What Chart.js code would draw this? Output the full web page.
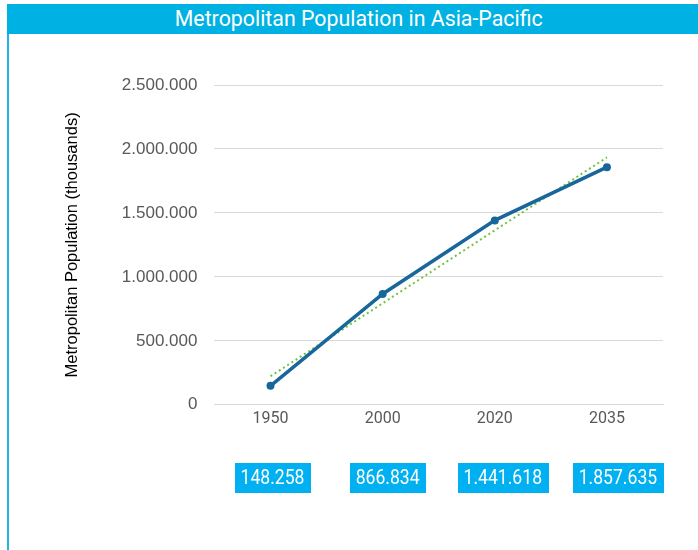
<!DOCTYPE html>
<html>
<head>
<meta charset="utf-8">
<script src="https://cdn.jsdelivr.net/npm/chart.js@4.4.1/dist/chart.umd.min.js"></script>
<style>
  body { margin: 0; background: #fff; }
  #wrap { position: relative; width: 698px; height: 550px; overflow: hidden; }
  #title {
    position: absolute; left: 7px; top: 4px; width: 679px; height: 30px; padding-left: 12px;
    background: #00b2e3; color: #fff; text-align: center;
    font: 22px Roboto, sans-serif; line-height: 30px;
  }
  #title span { display: inline-block; transform: scaleX(0.97); }
  #edge { position: absolute; left: 7px; top: 34px; width: 2px; height: 516px; background: #1fb6e6; }
  canvas { position: absolute; left: 0; top: 0; }
</style>
</head>
<body>
<div id="wrap">
  <div id="title"><span>Metropolitan Population in Asia-Pacific</span></div>
  <div id="edge"></div>
  <canvas id="chart" width="698" height="550"></canvas>
</div>
<script>
const years = ["1950", "2000", "2020", "2035"];
const population = [148258, 866834, 1441618, 1857635];
// linear trendline (excel style)
const trendValues = [223148, 793440, 1363732, 1934024];
const yTicks = [0, 500000, 1000000, 1500000, 2000000, 2500000];

const fmt = (v) => v.toLocaleString("de-DE");

// draws the blue value boxes under the x axis
const valueBoxes = {
  id: "valueBoxes",
  afterDraw(chart) {
    const ctx = chart.ctx;
    const xs = chart.scales.x;
    const squeeze = 0.88; // the labels use a narrow face
    ctx.save();
    ctx.font = "20px Roboto, sans-serif";
    ctx.textAlign = "center";
    ctx.textBaseline = "middle";
    population.forEach((v, i) => {
      const cx = xs.getPixelForValue(i) + i * 3 + 2;
      const text = fmt(v);
      const w = ctx.measureText(text).width * squeeze + 12;
      ctx.fillStyle = "#00b0f0";
      ctx.fillRect(Math.round(cx - w / 2), 463, Math.round(w), 30);
      ctx.save();
      ctx.translate(cx, 479);
      ctx.scale(squeeze, 1);
      ctx.fillStyle = "#fff";
      ctx.fillText(text, 0, 0);
      ctx.restore();
    });
    ctx.restore();
  },
};

new Chart(document.getElementById("chart"), {
  type: "line",
  data: {
    labels: years,
    datasets: [
      {
        data: population,
        borderColor: "#17679b",
        backgroundColor: "#17679b",
        borderWidth: 3.5,
        pointRadius: 4,
        pointBorderWidth: 0,
        tension: 0,
        order: 1,
      },
      {
        data: trendValues,
        borderColor: "#72c23f",
        borderWidth: 2,
        borderDash: [2, 3],
        pointRadius: 0,
        tension: 0,
        order: 2,
      },
    ],
  },
  options: {
    responsive: false,
    animation: false,
    events: [],
    layout: { padding: { left: 59, right: 35, top: 85, bottom: 124 } },
    plugins: { legend: { display: false }, tooltip: { enabled: false } },
    scales: {
      x: {
        offset: true,
        grid: { display: false },
        border: { color: "#d9d9d9", width: 1 },
        ticks: { color: "#595959", font: { family: "Roboto", size: 16 }, padding: -3 },
      },
      y: {
        min: 0,
        max: 2500000,
        afterBuildTicks: (axis) => {
          axis.ticks = yTicks.map((value) => ({ value }));
        },
        grid: { color: "#d9d9d9", drawTicks: false },
        border: { display: false },
        ticks: {
          color: "#595959",
          font: { family: "Liberation Sans", size: 17 },
          padding: 17,
          callback: (v) => fmt(v),
        },
        title: {
          display: true,
          text: "Metropolitan Population (thousands)",
          color: "#000",
          font: { family: "Liberation Sans", size: 16.5 },
          padding: { bottom: 22 },
        },
      },
    },
  },
  plugins: [valueBoxes],
});
</script>
</body>
</html>
